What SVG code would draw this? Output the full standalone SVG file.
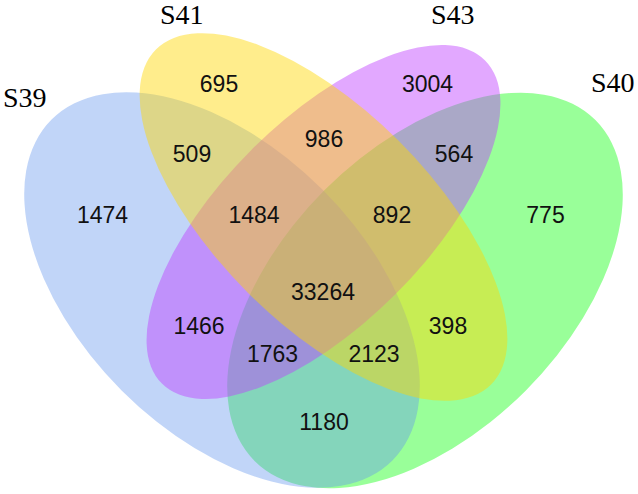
<svg xmlns="http://www.w3.org/2000/svg" width="638" height="494" viewBox="0 0 638 494">
<style>
.set{stroke:none}
.n{font-family:"Liberation Sans",Arial,Helvetica,sans-serif;font-size:23px;fill:#111;text-anchor:middle}
.lab{font-family:"Liberation Serif","Times New Roman",serif;font-size:28px;fill:#000}
</style>
<rect width="638" height="494" fill="#fff"/>
<g id="S40"><ellipse class="set" cx="425" cy="290.5" rx="241" ry="142" transform="rotate(-45 425 290.5)" fill="#00ff00" fill-opacity="0.4"/></g>
<g id="S39"><ellipse class="set" cx="222" cy="290" rx="241" ry="142" transform="rotate(45 222 290)" fill="#6495ed" fill-opacity="0.4"/></g>
<g id="S43"><ellipse class="set" cx="323.5" cy="222" rx="228.5" ry="102" transform="rotate(-45 323.5 222)" fill="#bf3eff" fill-opacity="0.45"/></g>
<g id="S41"><ellipse class="set" cx="323.5" cy="217" rx="237" ry="107" transform="rotate(45 323.5 217)" fill="#ffd700" fill-opacity="0.45"/></g>
<g id="labels">
<text class="lab" x="3" y="107">S39</text>
<text class="lab" x="160" y="24">S41</text>
<text class="lab" x="431" y="24">S43</text>
<text class="lab" x="591" y="92">S40</text>
</g>
<g id="counts">
<text class="n" x="219" y="92">695</text>
<text class="n" x="427.5" y="92">3004</text>
<text class="n" x="192" y="162">509</text>
<text class="n" x="324" y="147">986</text>
<text class="n" x="454" y="162">564</text>
<text class="n" x="102.5" y="223">1474</text>
<text class="n" x="254" y="223">1484</text>
<text class="n" x="392" y="223">892</text>
<text class="n" x="545.5" y="223">775</text>
<text class="n" x="323" y="300">33264</text>
<text class="n" x="199" y="334">1466</text>
<text class="n" x="448" y="334">398</text>
<text class="n" x="272.5" y="362">1763</text>
<text class="n" x="374" y="362">2123</text>
<text class="n" x="324" y="430">1180</text>
</g>
</svg>
